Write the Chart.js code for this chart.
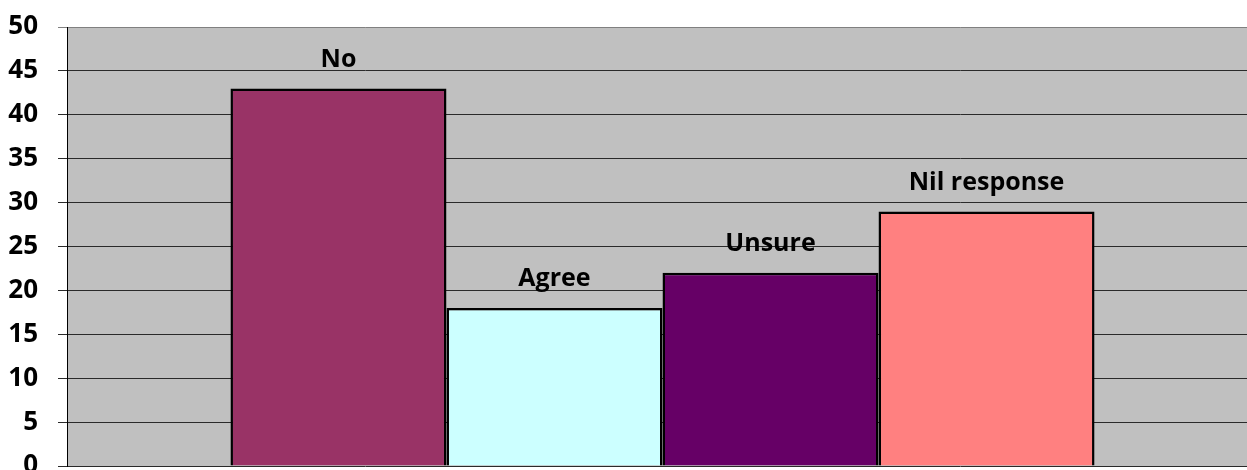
<!DOCTYPE html>
<html>
<head>
<meta charset="utf-8">
<script src="https://cdn.jsdelivr.net/npm/chart.js@4/dist/chart.umd.min.js"></script>
<style>
  html, body { margin: 0; padding: 0; background: #fff; overflow: hidden; }
  #wrap { width: 1258px; height: 490px; position: relative; }
</style>
</head>
<body>
<div id="wrap"><canvas id="bar-chart"></canvas></div>
<script>
const categories = ["Responses"];
const seriesNames = ["No", "Agree", "Unsure", "Nil response"];
const seriesValues = [43, 18, 22, 29];
const seriesColors = ["#993366", "#CCFFFF", "#660066", "#FF8080"];
const yTicks = [0, 5, 10, 15, 20, 25, 30, 35, 40, 45, 50];

// grey plot background
const plotBackground = {
  id: 'plotBackground',
  beforeDraw(chart) {
    const { ctx, chartArea: a } = chart;
    ctx.save();
    ctx.fillStyle = '#C0C0C0';
    ctx.fillRect(a.left, a.top, a.right - a.left, a.bottom - a.top);
    ctx.restore();
  }
};

// series name written over each bar
const barNames = {
  id: 'barNames',
  afterDatasetsDraw(chart) {
    const ctx = chart.ctx;
    ctx.save();
    ctx.font = 'bold 25px "Open Sans"';
    ctx.fillStyle = '#000';
    ctx.textAlign = 'center';
    ctx.textBaseline = 'middle';
    chart.data.datasets.forEach((ds, i) => {
      const bar = chart.getDatasetMeta(i).data[0];
      ctx.fillText(ds.label, bar.x, bar.y - 29);
    });
    ctx.restore();
  }
};

let barchart = new Chart(document.getElementById("bar-chart"), {
  type: 'bar',
  data: {
    labels: categories,
    datasets: seriesNames.map((name, i) => ({
      label: name,
      data: [seriesValues[i]],
      backgroundColor: seriesColors[i],
      borderColor: '#000',
      borderWidth: 2.5,
      barPercentage: 1,
      categoryPercentage: 0.7255
    }))
  },
  options: {
    responsive: true,
    maintainAspectRatio: false,
    animation: false,
    layout: { padding: { top: 27, bottom: 24, left: 0, right: 0 } },
    plugins: {
      legend: { display: false },
      tooltip: { enabled: false }
    },
    scales: {
      x: { display: false },
      y: {
        min: 0,
        max: 50,
        afterBuildTicks: scale => { scale.ticks = yTicks.map(v => ({ value: v })); },
        afterFit: scale => { scale.width = 67; },
        ticks: {
          padding: 20,
          color: '#000',
          font: { family: 'Open Sans', weight: 'bold', size: 26, lineHeight: 0.2 }
        },
        grid: {
          tickLength: 9,
          lineWidth: 1,
          color: ctx => ctx.tick && ctx.tick.value === 50 ? '#808080' : '#2a2a2a'
        },
        border: { color: '#000', width: 1 }
      }
    }
  },
  plugins: [plotBackground, barNames]
});
</script>
</body>
</html>
